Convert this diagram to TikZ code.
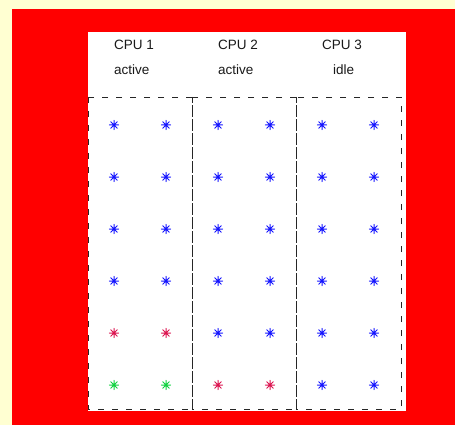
\documentclass[tikz,border=0pt]{standalone}
\usepackage{fontspec}
\setmainfont{Liberation Sans}
\definecolor{bgyellow}{RGB}{255,255,210}
\definecolor{astblue}{RGB}{20,20,255}
\definecolor{astred}{RGB}{220,20,80}
\definecolor{astgreen}{RGB}{16,210,64}
\tikzset{
  astpic/.pic={\draw[line width=1pt,line cap=round] (-4.6,0)--(4.6,0) (0,-4.6)--(0,4.6) (-3.3,-3.3)--(3.3,3.3) (-3.3,3.3)--(3.3,-3.3);},
  cpubox/.style={draw=black!85,line width=0.8pt,dash pattern=on 6pt off 8pt},
  lbl/.style={anchor=base west,inner sep=0pt,font=\fontsize{13.5}{16}\selectfont,text=black!90}
}
\begin{document}
\begin{tikzpicture}[x=1pt,y=-1pt]
\useasboundingbox (0,0) rectangle (455,425);
\fill[bgyellow] (0,0) rectangle (455,425);
\fill[red] (12,9) rectangle (455,425);
\fill[white] (88,32) rectangle (406,411);
% CPU boxes
\draw[cpubox] (88,97) rectangle (192,409);
\draw[cpubox] (192,97) rectangle (296,409);
\draw[cpubox] (296,97) rectangle (401,409);
% labels
\node[lbl] (c1) at (114,49.5) {CPU 1};
\node[lbl] (s1) at (114,75) {active};
\node[lbl] (c2) at (218,49.5) {CPU 2};
\node[lbl] (s2) at (218,75) {active};
\node[lbl] (c3) at (322,49.5) {CPU 3};
\node[lbl] (s3) at (333,75) {idle};
% asterisks
\foreach \y in {125,177,229,281} {
  \foreach \x in {114,166,218,270,322,374} {
    \pic[astblue] at (\x,\y) {astpic};
  }
}
\foreach \x in {218,270,322,374} { \pic[astblue] at (\x,333) {astpic}; }
\foreach \x in {114,166} { \pic[astred] at (\x,333) {astpic}; }
\foreach \x in {114,166} { \pic[astgreen] at (\x,385) {astpic}; }
\foreach \x in {218,270} { \pic[astred] at (\x,385) {astpic}; }
\foreach \x in {322,374} { \pic[astblue] at (\x,385) {astpic}; }
\end{tikzpicture}
\end{document}
